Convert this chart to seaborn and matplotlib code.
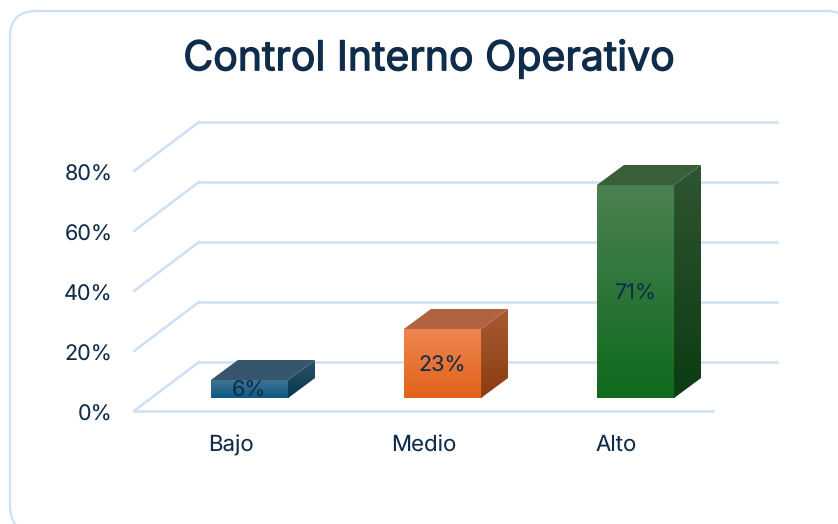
import numpy as np
import matplotlib
matplotlib.use('Agg')
import matplotlib.pyplot as plt
import seaborn as sns
from matplotlib.colors import LinearSegmentedColormap
from matplotlib.patches import FancyBboxPatch, Polygon
from matplotlib.transforms import ScaledTranslation
import matplotlib.patheffects as pe

categorias = ['Bajo', 'Medio', 'Alto']
valores = [6, 23, 71]
ticks_y = [0, 20, 40, 60, 80]

color_frente = [('#3f7394', '#0d5a82'), ('#ee8550', '#e2621a'), ('#4b8152', '#0e6a1d')]
color_lado = [('#2d5168', '#06384f'), ('#a95a33', '#8a3d10'), ('#2f5531', '#0b3c12')]
color_tapa = ['#36566e', '#b0633f', '#3a5f3b']

TEXTO = '#0f2d4a'
LINEA = '#cde0f5'
W, H = 838, 524

sns.set_theme(style='white')
plt.rcParams['font.family'] = ['Inter', 'DejaVu Sans']
plt.rcParams['text.hinting'] = 'no_hinting'
plt.rcParams['text.hinting_factor'] = 1

fig = plt.figure(figsize=(W / 100, H / 100), dpi=100)

# tarjeta de fondo
marco = fig.add_axes([0, 0, 1, 1], zorder=0)
marco.set_xlim(0, W)
marco.set_ylim(H, 0)
marco.axis('off')
marco.add_patch(FancyBboxPatch((10, 11), 842, 521, boxstyle='round,pad=0,rounding_size=26',
                               fc='white', ec=LINEA, lw=1.6))
titulo = marco.text(429, 59, 'Control Interno Operativo', ha='center', va='center',
                    fontsize=29.5, color=TEXTO)
titulo.set_path_effects([pe.withStroke(linewidth=0.9, foreground=TEXTO)])


def caja(x, y, w, h):
    return [x / W, 1 - (y + h) / H, w / W, h / H]


# ejes de la pared y el piso
ax = fig.add_axes(caja(134, 171, 579, 240), zorder=1)
ax.patch.set_alpha(0)
# ejes de las barras, corridos hacia adentro del piso
ax2 = fig.add_axes(caja(153, 158, 579, 240), zorder=2)
ax2.patch.set_alpha(0)

for a in (ax, ax2):
    a.set_xlim(-0.5, 2.5)
    a.set_ylim(0, 80)
    sns.despine(ax=a, left=True, bottom=True)
px_x = 3 / 579
px_y = 80 / 240

# lineas de la rejilla en perspectiva
fondo_x = 65 * px_x
fondo_y = 49 * px_y
for t in ticks_y:
    ax.plot([-0.5, -0.5 + fondo_x], [t, t + fondo_y], color=LINEA, lw=1.8, clip_on=False)
    ax.plot([-0.5 + fondo_x, 2.5 + fondo_x - px_x], [t + fondo_y] * 2, color=LINEA, lw=1.8, clip_on=False)
ax.plot([-0.5, 2.5], [0, 0], color=LINEA, lw=1.8, clip_on=False)

ax.set_xticks(range(len(categorias)))
ax.set_xticklabels(categorias)
ax.set_yticks(ticks_y)
ax.set_yticklabels([f'{t}%' for t in ticks_y])
ax.tick_params(axis='y', length=0, pad=15.5, labelsize=15.5, labelcolor=TEXTO)
ax.tick_params(axis='x', length=0, pad=17, labelsize=16, labelcolor=TEXTO)
# etiquetas del eje y un poco mas abajo
bajar = ScaledTranslation(0, -2 / 100, fig.dpi_scale_trans)
for t in ax.get_yticklabels():
    t.set_transform(t.get_transform() + bajar)

sns.barplot(x=categorias, y=valores, ax=ax2, width=0.4, color='white', saturation=1)
ax2.set_xlabel('')
ax2.set_ylabel('')
ax2.set_xticks([])
ax2.set_yticks([])


def degradado(a, c1, c2, x0, x1, y0, y1, clip):
    cmap = LinearSegmentedColormap.from_list('g', [c1, c2])
    im = a.imshow(np.linspace(0, 1, 128).reshape(-1, 1), cmap=cmap, aspect='auto',
                  extent=(x0, x1, y0, y1), origin='upper', zorder=3, interpolation='bilinear')
    im.set_clip_path(clip)


prof_x = 27 * px_x
prof_y = 20 * px_y
for i, barra in enumerate(ax2.patches):
    x0, x1 = barra.get_x(), barra.get_x() + barra.get_width()
    y1 = barra.get_height()
    barra.set_zorder(2)
    barra.set_edgecolor('none')
    degradado(ax2, color_frente[i][0], color_frente[i][1], x0, x1, 0, y1, barra)

    lado = Polygon([(x1, 0), (x1 + prof_x, prof_y), (x1 + prof_x, y1 + prof_y), (x1, y1)],
                   fc='none', ec='none', zorder=4, clip_on=False)
    ax2.add_patch(lado)
    degradado(ax2, color_lado[i][0], color_lado[i][1], x1, x1 + prof_x, 0, y1 + prof_y, lado)

    tapa = Polygon([(x0, y1), (x0 + prof_x, y1 + prof_y), (x1 + prof_x, y1 + prof_y), (x1, y1)],
                   fc=color_tapa[i], ec='none', zorder=4, clip_on=False)
    ax2.add_patch(tapa)

ax2.bar_label(ax2.containers[0], labels=[f'{v}%' for v in valores], label_type='center',
              fontsize=15.5, color=TEXTO)
for t in ax2.texts:
    t.set_zorder(6)
    t.set_y(t.get_position()[1] - 4.5 * px_y)
ax2.set_xlim(-0.5, 2.5)
ax2.set_ylim(0, 80)

fig.savefig('out.png', dpi=100)
